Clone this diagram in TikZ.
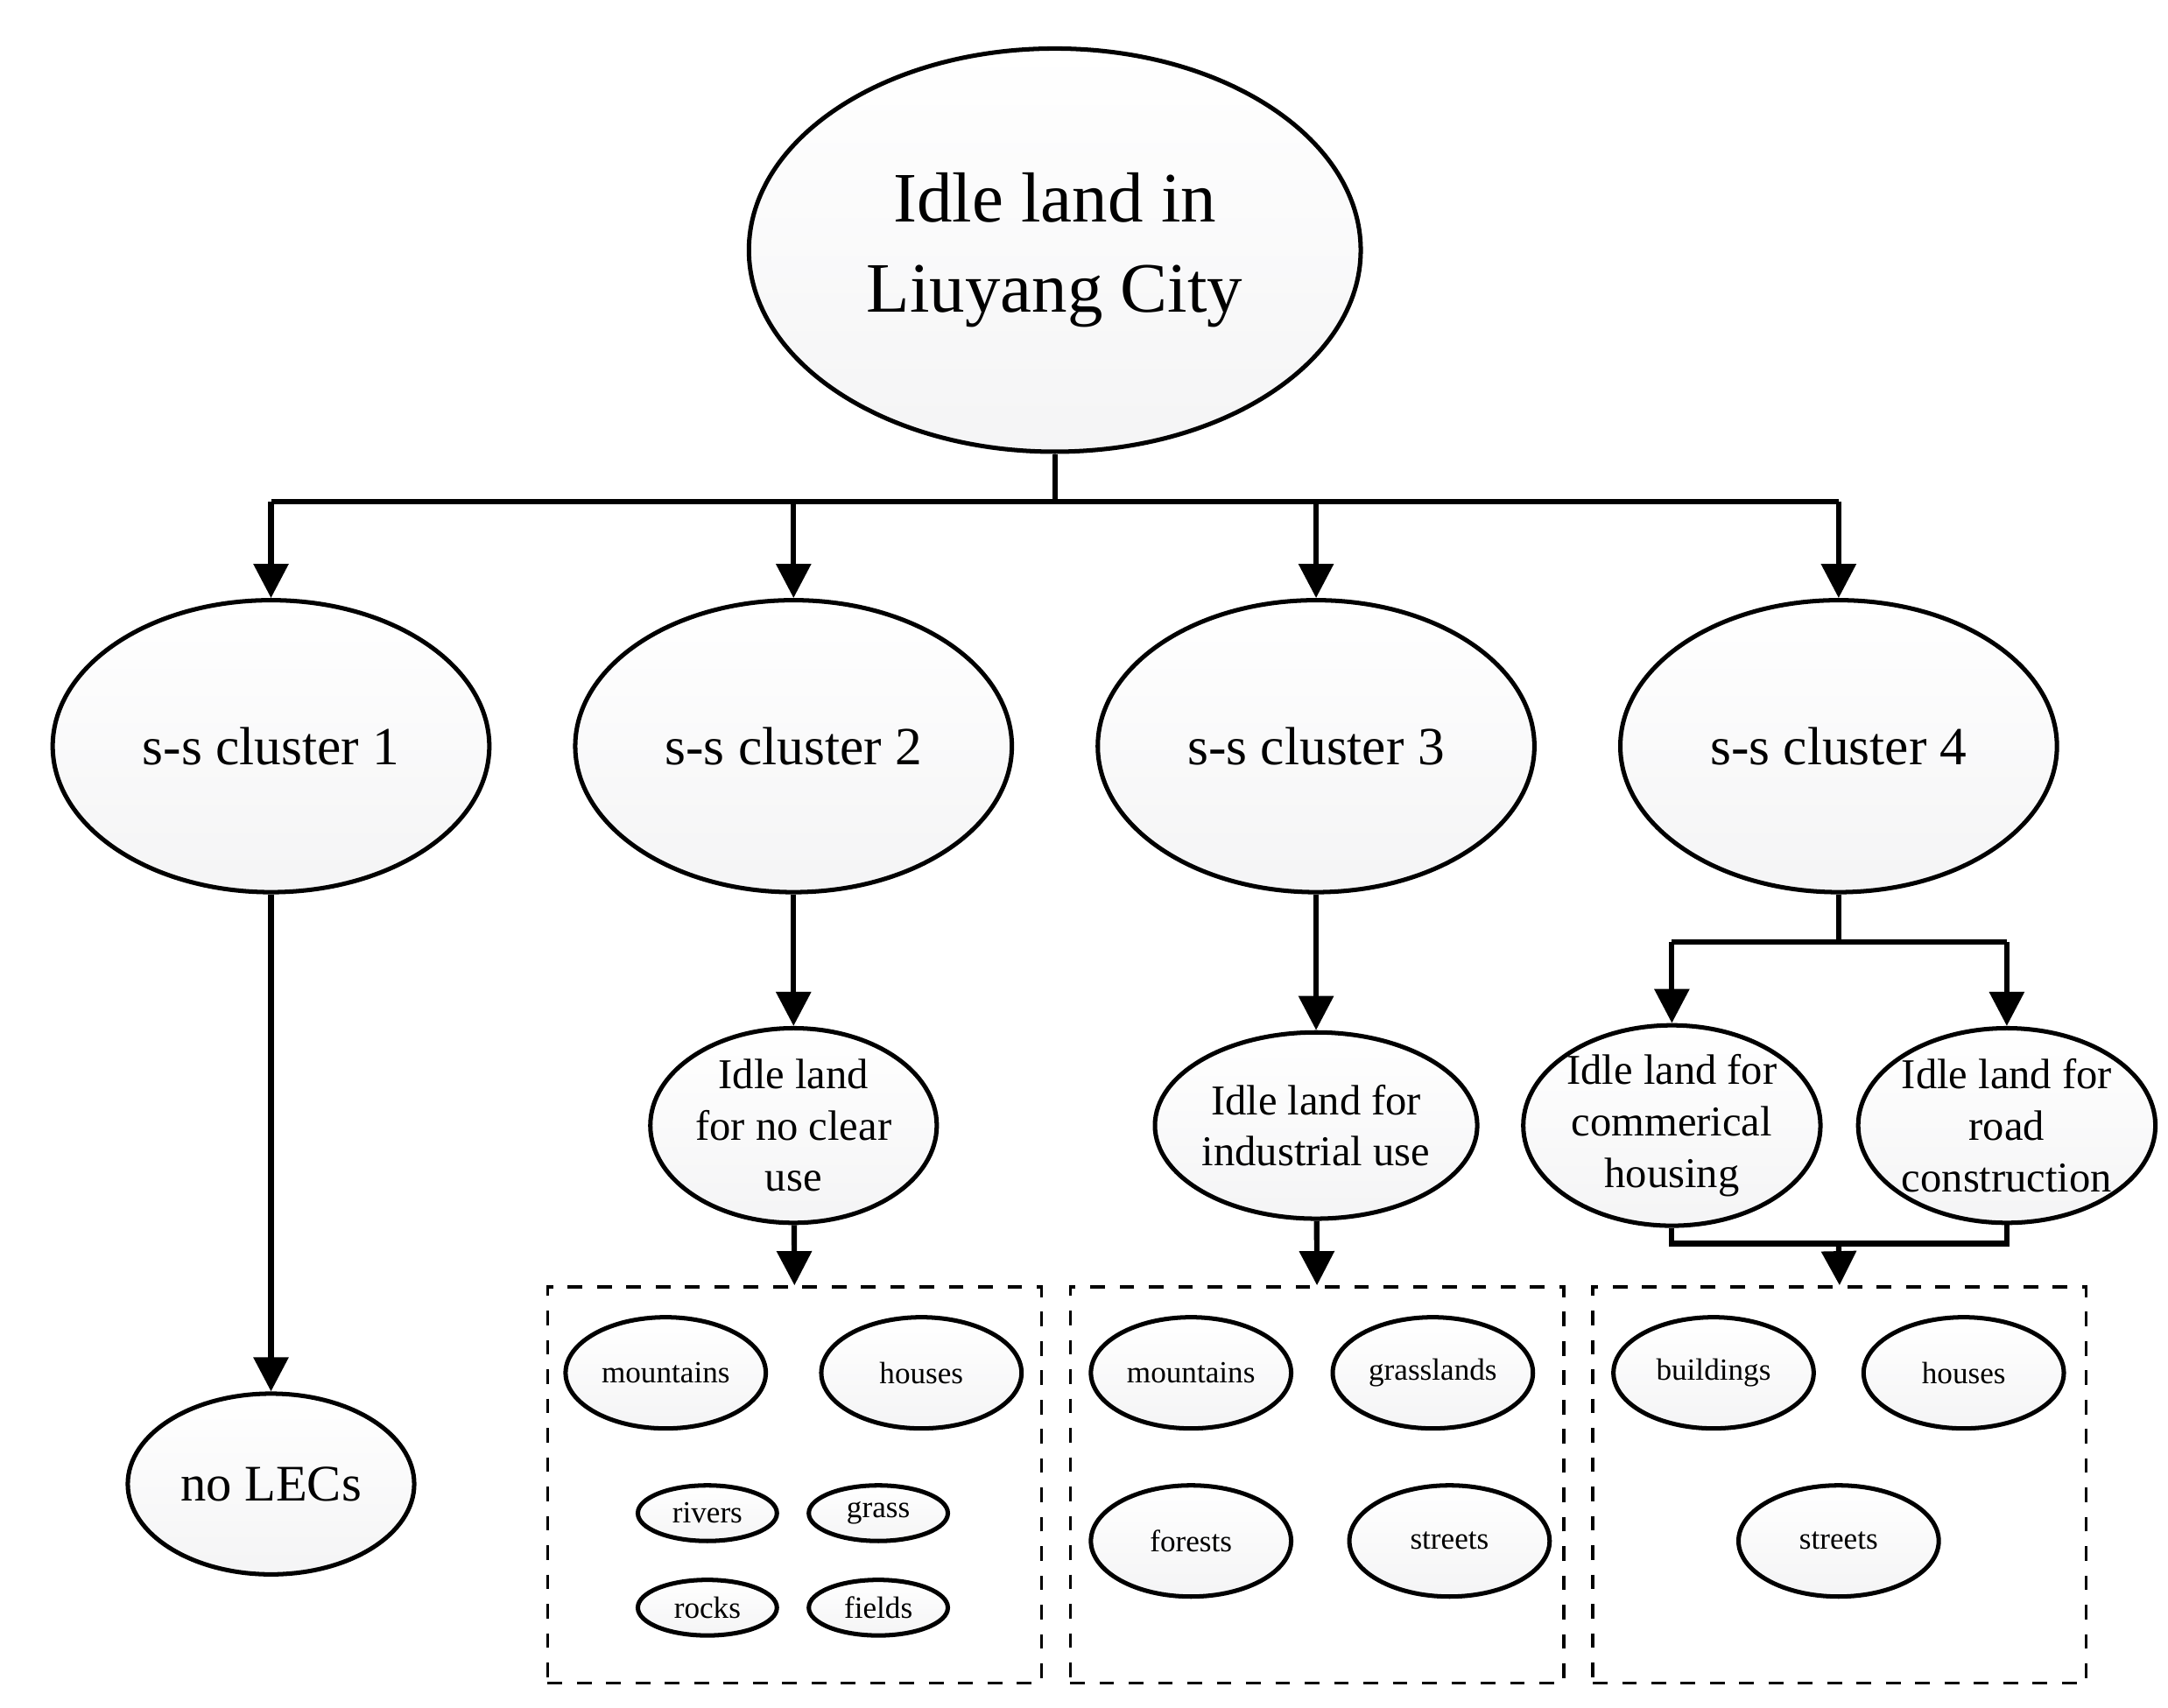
\documentclass[tikz,border=0pt]{standalone}
\usepackage{fontspec}
\setmainfont{Liberation Serif}
\usetikzlibrary{arrows.meta,shapes.geometric,positioning}

\tikzset{
    blob/.style={ellipse,draw,line width=0.9pt,inner sep=0pt,align=center,
        top color=white,bottom color=blue!5!gray!8},
    link/.style={line width=1.1pt},
    arr/.style={link,-{Triangle[length=7pt,width=7pt]}},
    group/.style={draw,dashed,line width=0.6pt}
}

\begin{document}
\begin{tikzpicture}[x=0.01cm,y=-0.01cm]
    \useasboundingbox (0,0) rectangle (1560,1229);

    % root and clusters
    \node[blob,minimum width=4.4cm,minimum height=2.9cm,font=\fontsize{14.5}{18.5}\selectfont] (root) at (759,180) {Idle land in\\Liuyang City};
    \foreach \i/\x in {1/195,2/571,3/947,4/1323}
        \node[blob,minimum width=3.14cm,minimum height=2.1cm,font=\fontsize{11}{14}\selectfont] (c_\i) at (\x,537) {s-s cluster \i};

    % second level
    \node[blob,minimum width=2.06cm,minimum height=1.3cm,font=\fontsize{10.5}{13}\selectfont] (none) at (195,1068) {no LECs};
    \node[blob,minimum width=2.06cm,minimum height=1.4cm,font=\fontsize{8.7}{10.5}\selectfont] (u_2) at (571,810) {Idle land\\for no clear\\use};
    \node[blob,minimum width=2.06cm,minimum height=1.34cm,font=\fontsize{8.7}{10.5}\selectfont] (u_3) at (947,810) {Idle land for\\industrial use};
    \node[blob,minimum width=2.06cm,minimum height=1.4cm,font=\fontsize{8.7}{10.5}\selectfont] (u_4a) at (1203,810) {Idle land for\\commerical\\housing};
    \node[blob,minimum width=2.06cm,minimum height=1.4cm,font=\fontsize{8.7}{10.5}\selectfont] (u_4b) at (1444,810) {Idle land for\\road\\construction};

    % dashed groups
    \node[group,minimum width=3.55cm,minimum height=2.85cm,anchor=north west] (g_2) at (393,925) {};
    \node[group,minimum width=3.55cm,minimum height=2.85cm,anchor=north west] (g_3) at (769,925) {};
    \node[group,minimum width=3.55cm,minimum height=2.85cm,anchor=north west] (g_4) at (1145,925) {};

    % land cover items
    \tikzset{big/.style={blob,minimum width=1.44cm,minimum height=0.8cm,font=\fontsize{6.3}{8}\selectfont},
             small/.style={blob,minimum width=1cm,minimum height=0.4cm,font=\fontsize{6.3}{8}\selectfont}}
    \node[big] (m_2) at (479,988) {mountains};
    \node[big] (h_2) at (663,988) {houses};
    \node[small] (r_2) at (509,1089) {rivers};
    \node[small] (gr_2) at (632,1089) {grass};
    \node[small] (ro_2) at (509,1157) {rocks};
    \node[small] (f_2) at (632,1157) {fields};
    \node[big] (m_3) at (857,988) {mountains};
    \node[big] (gl_3) at (1031,988) {grasslands};
    \node[big] (fo_3) at (857,1109) {forests};
    \node[big] (s_3) at (1043,1109) {streets};
    \node[big] (b_4) at (1233,988) {buildings};
    \node[big] (h_4) at (1413,988) {houses};
    \node[big] (s_4) at (1323,1109) {streets};

    % connectors
    \coordinate (bus) at (759,361);
    \draw[link] (root.south) -- (bus);
    \draw[link] (c_1.north |- bus) -- (c_4.north |- bus);
    \foreach \i in {1,...,4}
        \draw[arr] (c_\i.north |- bus) -- (c_\i.north);
    \draw[arr] (c_1) -- (none);
    \draw[arr] (c_2) -- (u_2);
    \draw[arr] (c_3) -- (u_3);
    \draw[arr] (u_2) -- (g_2.north);
    \draw[arr] (u_3) -- (g_3.north);
    \coordinate (split) at (1323,678);
    \draw[link] (c_4.south) -- (split);
    \draw[link] (u_4a.north |- split) -- (u_4b.north |- split);
    \draw[arr] (u_4a.north |- split) -- (u_4a.north);
    \draw[arr] (u_4b.north |- split) -- (u_4b.north);
    \coordinate (join) at (1323,895);
    \draw[link] (u_4a.south) -- (u_4a.south |- join) -- (u_4b.south |- join) -- (u_4b.south);
    \draw[arr] (join) -- (g_4.north);
\end{tikzpicture}
\end{document}
